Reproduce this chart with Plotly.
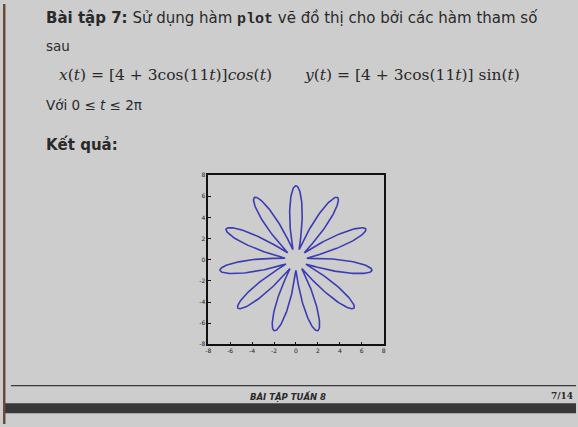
import numpy as np
import plotly.graph_objects as go

# Parametric curve definition
base_radius = 4
petal_amp = 3
petal_freq = 11
n_samples = 1200

axis_ticks = [-8, -6, -4, -2, 0, 2, 4, 6, 8]
axis_range = [-8, 8]

t = np.linspace(0, 2 * np.pi, n_samples)
r = base_radius + petal_amp * np.cos(petal_freq * t)
x_vals = r * np.cos(t)
y_vals = r * np.sin(t)

W, H = 578, 427
BG = "#cdcdcd"

def px(x):
    return x / W

def py(y):
    return 1 - y / H

fig = go.Figure()
# the slide's figure shows the curve with the first petal pointing up
fig.add_trace(go.Scatter(x=y_vals, y=x_vals, mode="lines",
                         line=dict(color="#3c3cb4", width=1.6),
                         hoverinfo="skip", showlegend=False))

axis_common = dict(range=axis_range, tickvals=axis_ticks,
                   ticktext=[str(v) for v in axis_ticks],
                   showgrid=False, zeroline=False, showline=True, mirror=True,
                   linecolor="#111111", linewidth=1.5, ticks="inside",
                   ticklen=3, tickcolor="#111111",
                   tickfont=dict(size=6, color="#222222", family="DejaVu Sans"))

fig.update_layout(
    width=W, height=H,
    margin=dict(l=0, r=0, t=0, b=0),
    paper_bgcolor=BG, plot_bgcolor=BG,
    xaxis=dict(domain=[px(207), px(384)], **axis_common),
    yaxis=dict(domain=[py(346), py(174)], **axis_common),
    showlegend=False,
)

TXT = "#2a2a2a"
FONT = "DejaVu Sans"

def ann(x, y, text, size=13, xanchor="left", family=FONT, color=TXT):
    fig.add_annotation(x=px(x), y=py(y), xref="paper", yref="paper",
                       text=text, showarrow=False, xanchor=xanchor,
                       yanchor="middle", align="left",
                       font=dict(size=size, color=color, family=family))

ann(41, 15, "<b>Bài tập 7:</b> Sử dụng hàm <span style='font-family:Liberation Mono'><b>plot</b></span> vẽ đồ thị cho bởi các hàm tham số", size=15)
ann(41, 43, "sau", size=13.5)
ann(54, 72, "<i>x</i>(<i>t</i>) = [4 + 3cos(11<i>t</i>)]<i>cos</i>(<i>t</i>)", size=15.5, family="DejaVu Serif")
ann(302, 72, "<i>y</i>(<i>t</i>) = [4 + 3cos(11<i>t</i>)] sin(<i>t</i>)", size=15.5, family="DejaVu Serif")
ann(41, 103, "Với 0 ≤ <i>t</i> ≤ 2π", size=13.5)
ann(41, 143, "<b>Kết quả:</b>", size=15)

ann(287, 399, "<b><i>BÀI TẬP TUẦN 8</i></b>", size=8.5, xanchor="center")
ann(577, 399, "<b>7/14</b>", size=9, xanchor="right", family="DejaVu Serif")

# footer rule and dark band
fig.add_shape(type="line", xref="paper", yref="paper",
              x0=px(8), x1=1, y0=py(388), y1=py(388),
              line=dict(color="#3a3a3a", width=1.2))
fig.add_shape(type="rect", xref="paper", yref="paper",
              x0=0, x1=1, y0=py(416), y1=py(406),
              fillcolor="#383838", line=dict(width=0))
# left edge strip
fig.add_shape(type="rect", xref="paper", yref="paper",
              x0=0, x1=px(2.5), y0=0, y1=1,
              fillcolor="#6b4a3a", line=dict(width=0))

fig.write_html("out.html", config={"displayModeBar": False},
               post_script="document.body.style.margin='0';document.body.style.overflow='hidden';")
